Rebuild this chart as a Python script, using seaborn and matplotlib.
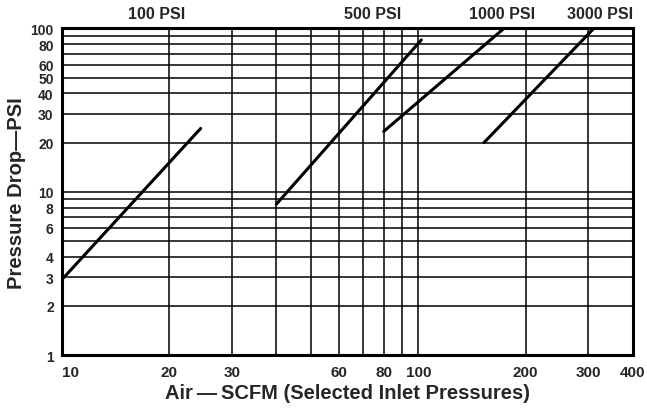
import matplotlib
matplotlib.use("Agg")
import matplotlib.pyplot as plt
import matplotlib.ticker as mticker
import pandas as pd
import seaborn as sns

# Flow lines (start / end of each inlet pressure line)
series_names = ['100 PSI', '500 PSI', '1000 PSI', '3000 PSI']
scfm_start = [10, 40, 80, 153]
scfm_end = [24.5, 102, 174, 311]
drop_start = [2.9, 8.4, 23.4, 20]
drop_end = [24.4, 85, 100, 100]

# Axis ticks
x_labels = [10, 20, 30, 60, 80, 100, 200, 300, 400]
x_grid = [20, 30, 40, 50, 60, 70, 80, 90, 100, 200, 300]
y_labels = [1, 2, 3, 4, 6, 8, 10, 20, 30, 40, 50, 60, 80, 100]
y_grid = [2, 3, 4, 5, 6, 7, 8, 9, 10, 20, 30, 40, 50, 60, 70, 80, 90]

rows = []
for name, x0, x1, y0, y1 in zip(series_names, scfm_start, scfm_end, drop_start, drop_end):
    rows.append({'series': name, 'scfm': x0, 'drop': y0})
    rows.append({'series': name, 'scfm': x1, 'drop': y1})
df = pd.DataFrame(rows)

sns.set_style("white")
font = ['Liberation Sans', 'DejaVu Sans']

fig = plt.figure(figsize=(6.47, 4.14), dpi=100)
ax = fig.add_axes([0.0958, 0.140, 0.8822, 0.789])

sns.lineplot(data=df, x='scfm', y='drop', hue='series', units='series', estimator=None,
             palette=['black'] * len(series_names), legend=False, linewidth=2.2,
             sort=False, ax=ax)

ax.set_xscale('log')
ax.set_yscale('log')
ax.set_xlim(10, 400)
ax.set_ylim(1, 100)

# grid lines
for v in x_grid:
    ax.axvline(v, color='black', linewidth=1.1, zorder=0)
for v in y_grid:
    ax.axhline(v, color='black', linewidth=1.1, zorder=0)

ax.xaxis.set_major_locator(mticker.FixedLocator(x_labels))
ax.xaxis.set_minor_locator(mticker.NullLocator())
ax.yaxis.set_major_locator(mticker.FixedLocator(y_labels))
ax.yaxis.set_minor_locator(mticker.NullLocator())
ax.set_xticklabels([str(v) for v in x_labels], family=font, fontweight='bold', fontsize=11)
ax.set_yticklabels([str(v) for v in y_labels], family=font, fontweight='bold', fontsize=10)
ax.get_xticklabels()[0].set_horizontalalignment('left')
ax.tick_params(axis='x', length=0, pad=7)
ax.tick_params(axis='y', length=0, pad=6)

for s in ax.spines.values():
    s.set_visible(True)
    s.set_color('black')
    s.set_linewidth(2.2)

ax.set_xlabel('Air\u2009\u2014\u2009SCFM (Selected Inlet Pressures)', family=font,
              fontweight='bold', fontsize=14.5, labelpad=3)
ax.set_ylabel('Pressure Drop\u2014PSI', family=font,
              fontweight='bold', fontsize=14.5, labelpad=3)

# inlet pressure captions above the plot
caption_x = [0.166, 0.545, 0.771, 0.942]
for name, cx in zip(series_names, caption_x):
    ax.text(cx, 1.045, name, transform=ax.transAxes, ha='center', va='center',
            family=font, fontweight='bold', fontsize=11.5)

fig.savefig('out.png', dpi=100)
plt.close(fig)
